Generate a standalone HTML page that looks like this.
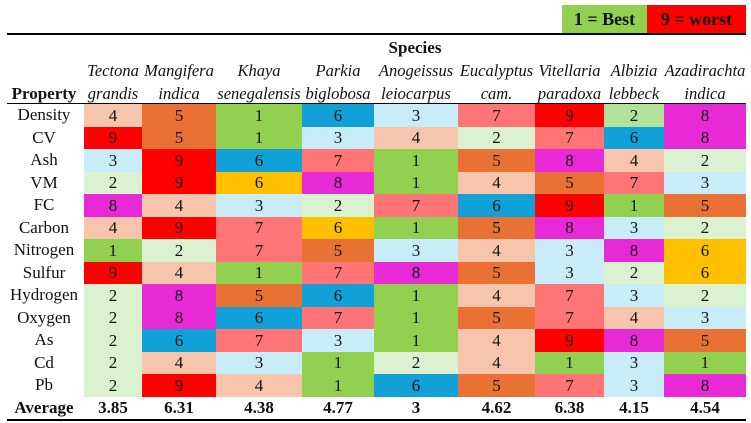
<!DOCTYPE html>
<html><head><meta charset="utf-8">
<style>
body{margin:0;width:751px;height:423px;background:#fff;position:relative;overflow:hidden;font-family:"Liberation Serif",serif;color:#111}
div{position:absolute;box-sizing:border-box}
.t{text-align:center;white-space:nowrap}
.c{display:flex;align-items:center;justify-content:center;font-size:17px}
</style></head><body>
<div style="left:562px;top:5px;width:85px;height:29px;background:#92d050;font-weight:bold;font-size:18px;line-height:29px;text-align:center">1 = Best</div>
<div style="left:647px;top:5px;width:99px;height:29px;background:#ff0000;font-weight:bold;font-size:18px;line-height:29px;text-align:center">9 = worst</div>
<div style="left:7px;top:33px;width:739px;height:2px;background:#000"></div>
<div class="t" style="left:84px;top:38px;width:662px;font-weight:bold;font-size:17px">Species</div>
<div class="t" style="left:7px;top:84px;width:74px;font-weight:bold;font-size:17px">Property</div>
<div style="left:7px;top:103px;width:739px;height:1px;background:#000"></div>
<div style="left:7px;top:419px;width:739px;height:2px;background:#000"></div>
<script>
const species1=["Tectona","Mangifera","Khaya","Parkia","Anogeissus","Eucalyptus","Vitellaria","Albizia","Azadirachta"];
const species2=["grandis","indica","senegalensis","biglobosa","leiocarpus","cam.","paradoxa","lebbeck","indica"];
const properties=["Density","CV","Ash","VM","FC","Carbon","Nitrogen","Sulfur","Hydrogen","Oxygen","As","Cd","Pb"];
const ranks=[
[4,5,1,6,3,7,9,2,8],
[9,5,1,3,4,2,7,6,8],
[3,9,6,7,1,5,8,4,2],
[2,9,6,8,1,4,5,7,3],
[8,4,3,2,7,6,9,1,5],
[4,9,7,6,1,5,8,3,2],
[1,2,7,5,3,4,3,8,6],
[9,4,1,7,8,5,3,2,6],
[2,8,5,6,1,4,7,3,2],
[2,8,6,7,1,5,7,4,3],
[2,6,7,3,1,4,9,8,5],
[2,4,3,1,2,4,1,3,1],
[2,9,4,1,6,5,7,3,8]];
const averages=["3.85","6.31","4.38","4.77","3","4.62","6.38","4.15","4.54"];
const colEdges=[84,142,216,302,374,458,535,604,664,746];
const yellowSix=[[3,2],[5,3],[6,8],[7,8]];
const altTwo=[[0,7]];
const pal={1:"#92d050",2:"#daf2d0",3:"#c9ecf9",4:"#f7c5ac",5:"#e97133",6:"#11a0d7",7:"#ff7575",8:"#e82ad6",9:"#ff0000"};
const top0=104,rowH=22.5;
function mk(cls,css,txt){const d=document.createElement('div');d.className=cls;d.style.cssText=css;if(txt!==undefined)d.textContent=txt;document.body.appendChild(d);return d;}
species1.forEach((s,j)=>{
 const x=colEdges[j],w=colEdges[j+1]-colEdges[j];
 const a=mk('t',`left:${x-8}px;top:61px;width:${w+16}px;font-style:italic;font-size:16.5px`,s);
 
 
 const b=mk('t',`left:${x-8}px;top:84px;width:${w+16}px;font-style:italic;font-size:16.5px`,species2[j]);
 
 
});
properties.forEach((p,i)=>{
 const y=top0+i*rowH;
 const l=mk('c',`left:5px;top:${y}px;width:78px;height:${rowH}px`,p);
 
 
 ranks[i].forEach((v,j)=>{
  let col=pal[v];
  if(yellowSix.some(q=>q[0]===i&&q[1]===j))col="#ffc000";
  if(altTwo.some(q=>q[0]===i&&q[1]===j))col="#b3e29a";
  const x=colEdges[j],w=colEdges[j+1]-colEdges[j];
  const c=mk('c',`left:${x}px;top:${y}px;width:${w}px;height:${rowH+0.6}px;background:${col}`,String(v));
  
  
 });
});
const ay=top0+properties.length*rowH;
const al=mk('c',`left:5px;top:${ay}px;width:78px;height:22px;font-weight:bold`,"Average");


averages.forEach((a,j)=>{
 const x=colEdges[j],w=colEdges[j+1]-colEdges[j];
 const c=mk('c',`left:${x}px;top:${ay}px;width:${w}px;height:22px;font-weight:bold`,a);
 
 
});
</script>
</body></html>
